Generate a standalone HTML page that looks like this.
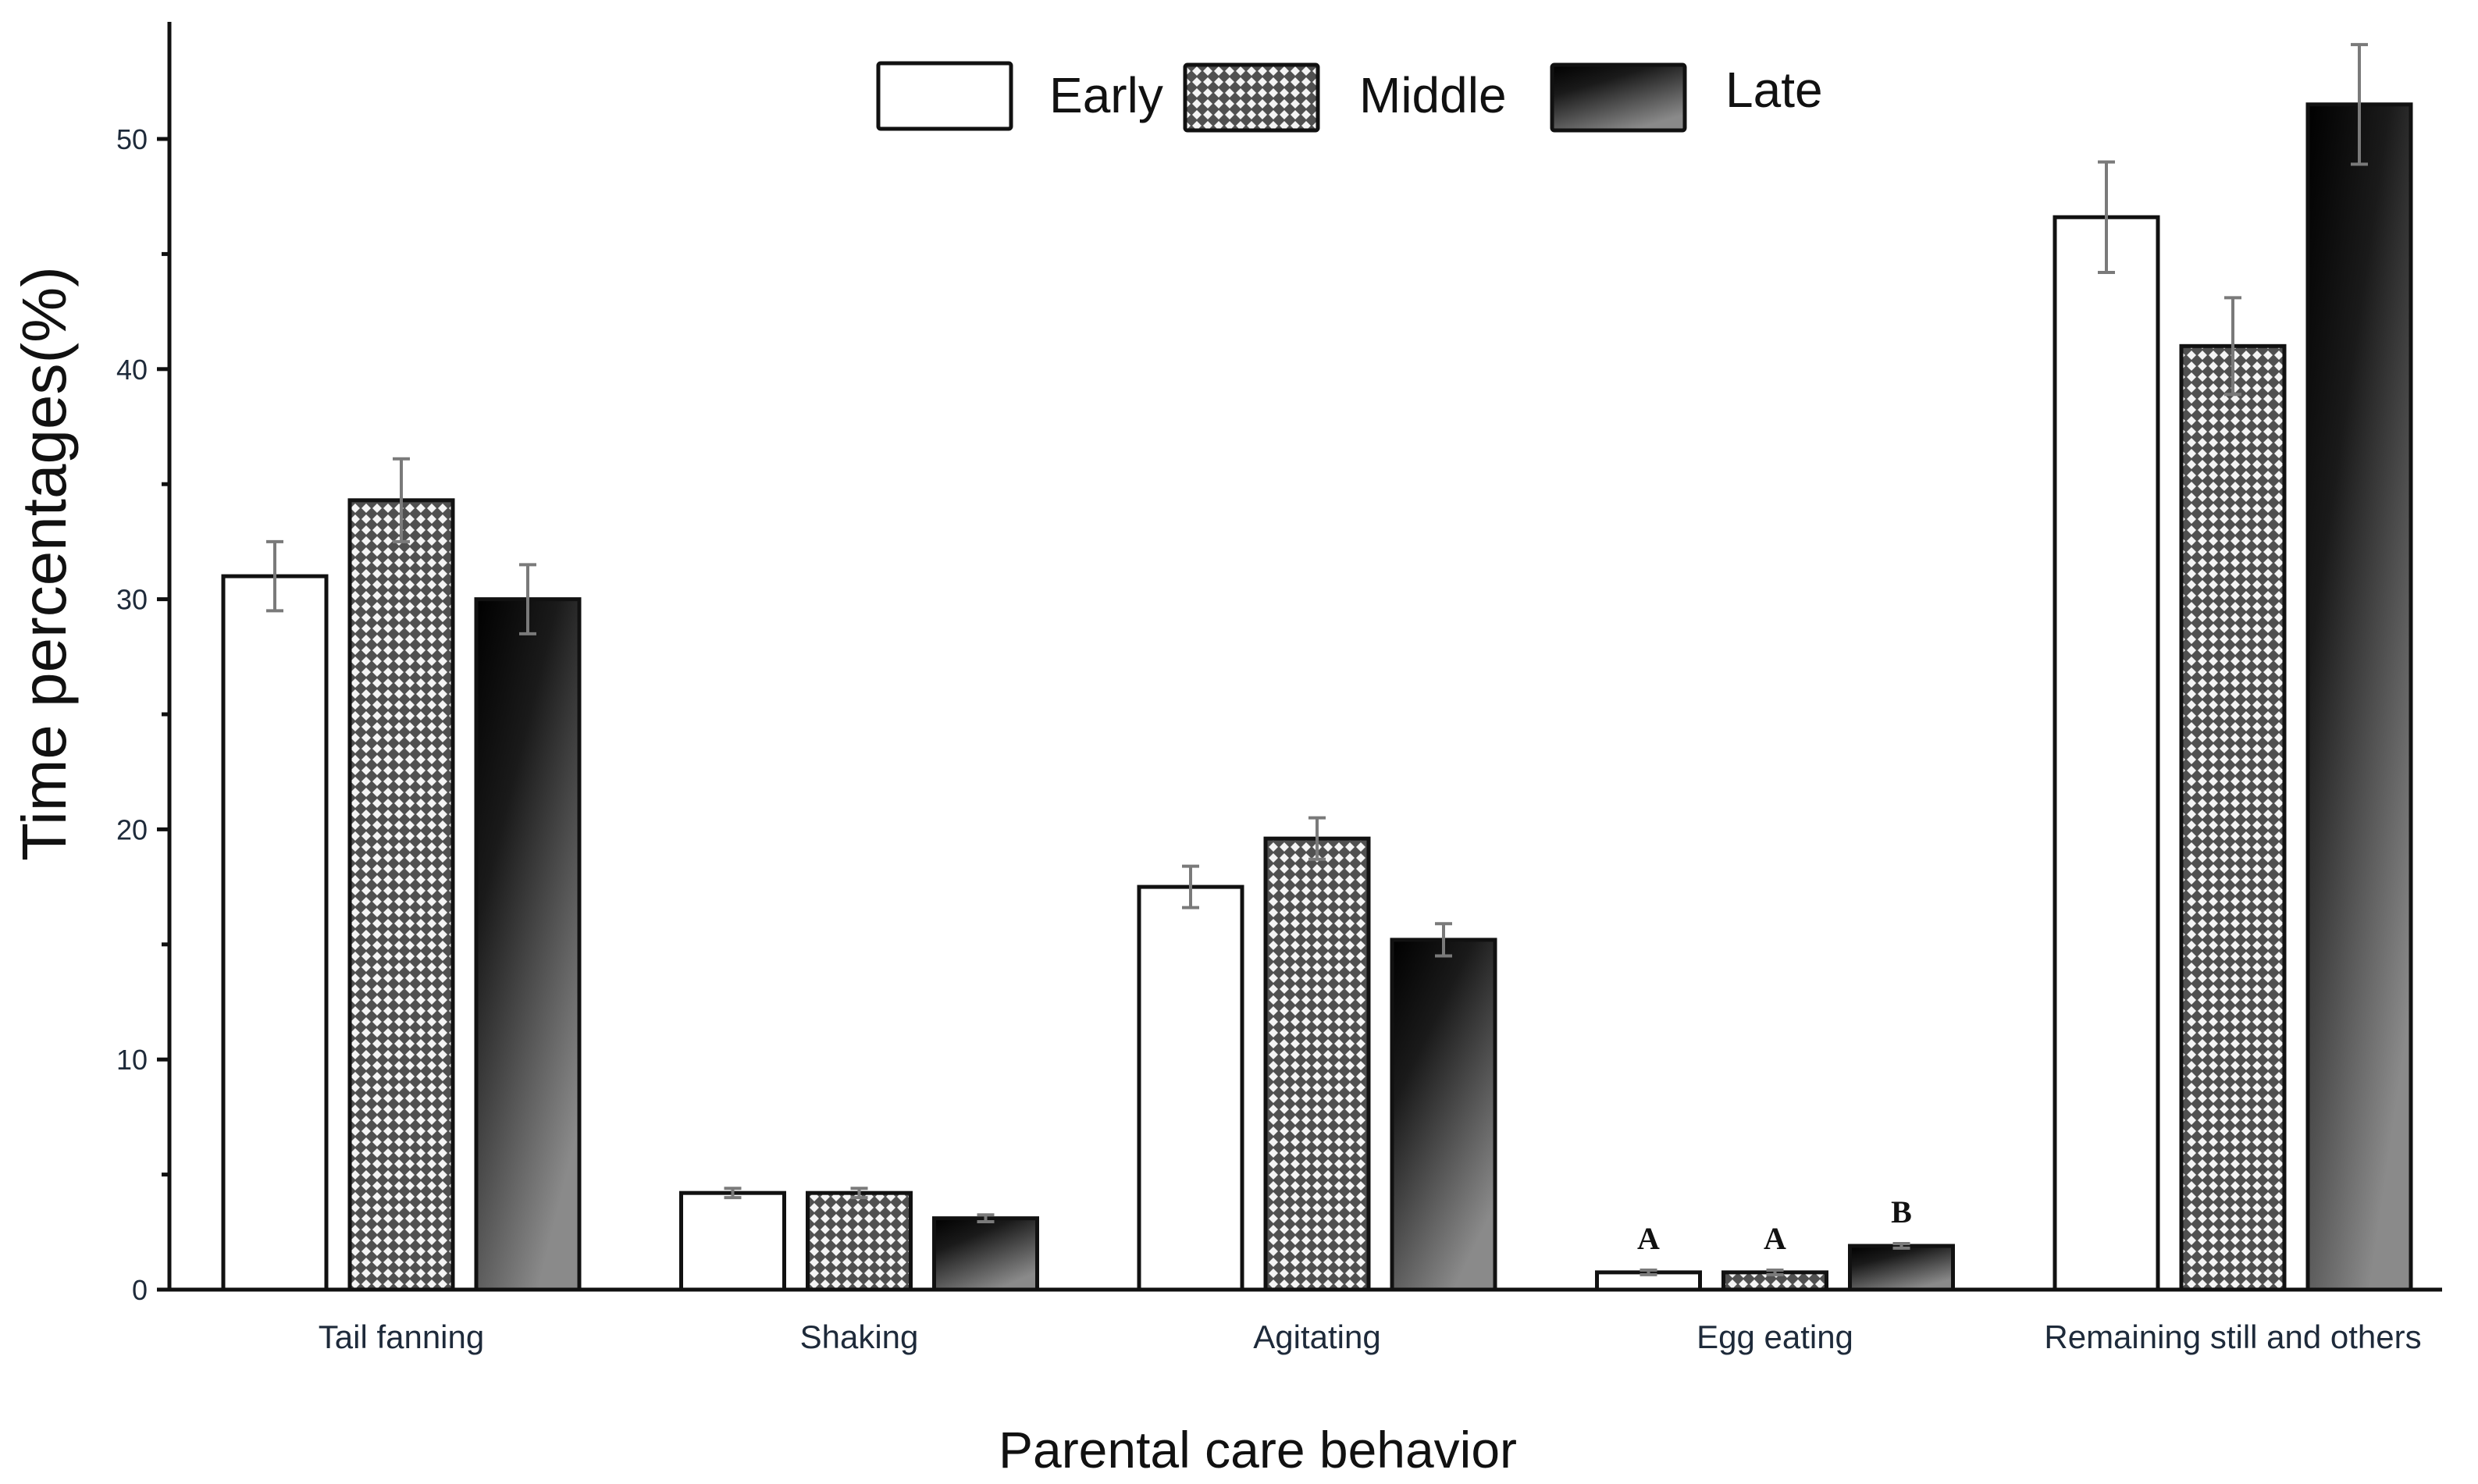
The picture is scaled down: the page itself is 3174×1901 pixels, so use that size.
<!DOCTYPE html>
<html><head><meta charset="utf-8"><style>
html,body{margin:0;padding:0;background:#fff;}
svg{display:block;font-family:"Liberation Sans",sans-serif;}
</style></head><body>
<svg id="chart" width="3174" height="1901" viewBox="0 0 3174 1901" xmlns="http://www.w3.org/2000/svg">
<defs>
<pattern id="hatch" width="14" height="14" patternUnits="userSpaceOnUse">
<rect width="14" height="14" fill="#505050"/>
<path d="M7 1 L13 7 L7 13 L1 7 Z" fill="#f4f4f4"/>
</pattern>
<linearGradient id="lateGrad" x1="0" y1="0" x2="0.6" y2="1">
<stop offset="0" stop-color="#000"/>
<stop offset="0.35" stop-color="#1a1a1a"/>
<stop offset="1" stop-color="#8a8a8a"/>
</linearGradient>
</defs>
<g id="plot"></g>
</svg>
<script>
const categories = ["Tail fanning","Shaking","Agitating","Egg eating","Remaining still and others"];
const seriesNames = ["Early","Middle","Late"];
const earlyVals = [31.0, 4.2, 17.5, 0.75, 46.6];
const middleVals = [34.3, 4.2, 19.6, 0.75, 41.0];
const lateVals = [30.0, 3.1, 15.2, 1.9, 51.5];
const earlyErr = [1.5, 0.2, 0.9, 0.1, 2.4];
const middleErr = [1.8, 0.2, 0.9, 0.1, 2.1];
const lateErr = [1.5, 0.15, 0.7, 0.1, 2.6];
const yTicks = [0, 10, 20, 30, 40, 50];
const sigLetters = [null, null, null, ["A","A","B"], null];

const NS = "http://www.w3.org/2000/svg";
const g = document.getElementById("plot");
const X0 = 217, Y0 = 1652, PPU = 29.48;
const yScale = v => Y0 - v * PPU;
const groupCenter = i => 514 + i * 586.5;
const BW = 132, PITCH = 162;
function mk(tag, attrs, parent){const e=document.createElementNS(NS,tag);for(const k in attrs)e.setAttribute(k,attrs[k]);(parent||g).appendChild(e);return e;}

const fills = ["#fff","url(#hatch)","url(#lateGrad)"];
const vals = [earlyVals, middleVals, lateVals];
const errs = [earlyErr, middleErr, lateErr];

categories.forEach((c, i) => {
  for (let s = 0; s < 3; s++) {
    const cx = groupCenter(i) + (s - 1) * PITCH;
    const v = vals[s][i];
    const r = mk("rect", {x: cx - BW/2, y: yScale(v), width: BW, height: Y0 - yScale(v), fill: fills[s], stroke: "#111", "stroke-width": 5});
    
    
    const e = errs[s][i];
    const eg = mk("g", {stroke: "#7a7a7a", "stroke-width": 4});
    
    
    mk("line", {x1: cx, x2: cx, y1: yScale(v + e), y2: yScale(v - e)}, eg);
    mk("line", {x1: cx - 11, x2: cx + 11, y1: yScale(v + e), y2: yScale(v + e)}, eg);
    mk("line", {x1: cx - 11, x2: cx + 11, y1: yScale(v - e), y2: yScale(v - e)}, eg);
    if (sigLetters[i]) {
      const t = mk("text", {x: cx, y: yScale(v) - 30, "text-anchor": "middle", "font-family": "Liberation Serif, serif", "font-weight": "bold", "font-size": 40, fill: "#111"});
      t.textContent = sigLetters[i][s];
      
      
    }
  }
  const lbl = mk("text", {x: groupCenter(i), y: 1727, "text-anchor": "middle", "font-size": 42, fill: "#1e2a3a"});
  lbl.textContent = c;
  
  
});

const ax = mk("g", {stroke: "#111", "stroke-width": 5, fill: "none"});


mk("line", {x1: X0, x2: X0, y1: 28, y2: Y0 + 2}, ax);
mk("line", {x1: X0 - 16, x2: 3128, y1: Y0, y2: Y0}, ax);
yTicks.forEach(t => {
  mk("line", {x1: X0 - 16, x2: X0, y1: yScale(t), y2: yScale(t)}, ax);
  if (t < 50) mk("line", {x1: X0 - 10, x2: X0, y1: yScale(t + 5), y2: yScale(t + 5)}, ax);
  const tl = mk("text", {x: X0 - 28, y: yScale(t) + 13, "text-anchor": "end", "font-size": 36, fill: "#1e2a3a"});
  tl.textContent = t;
  
  
});

const yt = mk("text", {x: 0, y: 0, transform: "translate(84 722) rotate(-90)", "text-anchor": "middle", "font-size": 80, fill: "#111"});
yt.textContent = "Time percentages(%)";


const xt = mk("text", {x: 1611, y: 1880, "text-anchor": "middle", "font-size": 66, fill: "#111"});
xt.textContent = "Parental care behavior";



const legBoxes = [[1125, 81], [1518, 83], [1988, 83]];
const legText = [1344, 1741, 2210];
const lg = mk("g", {});


seriesNames.forEach((n, s) => {
  const b = mk("rect", {x: legBoxes[s][0], y: legBoxes[s][1], width: 170, height: 84, fill: fills[s], stroke: "#111", "stroke-width": 5, rx: 3}, lg);
  
  
  const t = mk("text", {x: legText[s], y: s === 2 ? 137 : 144, "font-size": 64, fill: "#111"}, lg);
  t.textContent = n;
  
  
});
</script>
</body></html>
